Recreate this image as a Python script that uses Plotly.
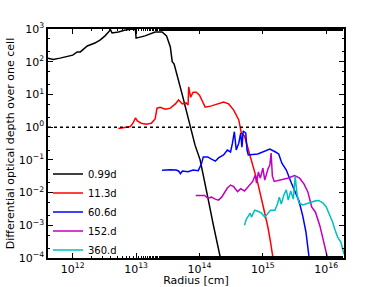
import numpy as np
import plotly.graph_objects as go

# log10(radius [cm]) and log10(differential optical depth)
labels = ["0.99d", "11.3d", "60.6d", "152.d", "360.d"]
colors = ["#000000", "#FF0000", "#0000FF", "#BF00BF", "#00BFBF"]

logr_099 = [11.61, 11.69, 11.80, 12.0, 12.07, 12.12, 12.23, 12.35, 12.43, 12.51, 12.58, 12.59,
            12.62, 12.72, 12.83, 12.95, 12.99, 13.0, 13.14, 13.30, 13.41, 13.48, 13.54, 13.56,
            13.57, 13.60, 13.65, 13.73, 13.79, 13.86, 13.93, 14.01, 14.08, 14.14, 14.22, 14.33]
logt_099 = [2.11, 2.07, 2.11, 2.2, 2.30, 2.30, 2.48, 2.57, 2.66, 2.79, 2.94, 3.0,
            2.88, 2.91, 2.97, 3.0, 2.98, 2.72, 2.79, 2.91, 2.91, 2.79, 2.45, 2.2,
            2.0, 1.93, 1.59, 0.98, 0.52, 0.0, -0.55, -1.0, -1.62, -2.23, -3.0, -4.0]

logr_113 = [12.72, 12.83, 12.91, 12.95, 12.99, 13.02, 13.08, 13.16, 13.24, 13.30, 13.33, 13.38,
            13.46, 13.54, 13.62, 13.67, 13.73, 13.79, 13.82, 13.83, 13.86, 13.90, 13.95, 14.00,
            14.06, 14.09, 14.19, 14.28, 14.38, 14.46, 14.54, 14.62, 14.65, 14.66, 14.71, 14.76,
            14.84, 14.92, 15.0, 15.08, 15.12, 15.16]
logt_113 = [-0.04, -0.01, 0.02, 0.12, 0.28, 0.19, 0.12, 0.09, 0.12, 0.25, 0.58, 0.61,
            0.55, 0.58, 0.71, 0.83, 0.71, 0.74, 0.68, 1.23, 0.92, 1.07, 1.07, 0.98,
            0.71, 0.61, 0.65, 0.71, 0.77, 0.71, 0.52, 0.22, -0.09, -0.18, -0.27, -0.61,
            -1.16, -1.71, -2.38, -3.06, -3.51, -4.0]

logr_606 = [13.41, 13.54, 13.63, 13.67, 13.70, 13.73, 13.82, 13.90, 13.98, 14.03, 14.06, 14.13,
            14.19, 14.25, 14.30, 14.38, 14.44, 14.49, 14.52, 14.55, 14.58, 14.62, 14.65, 14.67,
            14.69, 14.73, 14.75, 14.77, 14.92, 15.01, 15.11, 15.20, 15.25, 15.30, 15.37, 15.45,
            15.50, 15.57, 15.63, 15.68, 15.73]
logt_606 = [-1.32, -1.30, -1.31, -1.34, -1.42, -1.34, -1.36, -1.31, -1.33, -1.13, -0.91, -0.91,
            -0.98, -1.04, -0.94, -0.85, -0.70, -0.76, -0.49, -0.14, -0.70, -0.49, -0.18, -0.61,
            -0.12, -0.18, -0.70, -0.85, -0.82, -0.76, -0.67, -0.76, -0.82, -1.10, -1.31, -1.71,
            -1.92, -2.26, -2.72, -3.21, -4.0]

logr_152 = [13.94, 14.01, 14.08, 14.13, 14.19, 14.25, 14.30, 14.35, 14.39, 14.44, 14.49, 14.54,
            14.60, 14.65, 14.71, 14.77, 14.84, 14.88, 14.90, 14.93, 14.96, 15.00, 15.03, 15.08,
            15.11, 15.13, 15.15, 15.18, 15.28, 15.39, 15.50, 15.58, 15.65, 15.71, 15.77, 15.83,
            15.90, 15.96, 16.02]
logt_152 = [-2.09, -2.08, -2.09, -2.17, -2.14, -2.20, -2.23, -2.14, -2.02, -1.86, -1.77, -1.82,
            -1.97, -1.88, -1.95, -1.82, -1.66, -1.46, -1.71, -1.37, -1.56, -1.25, -1.62, -1.28,
            -1.16, -0.79, -1.50, -1.66, -1.62, -1.56, -1.48, -1.56, -1.74, -1.98, -2.44, -2.60,
            -3.02, -3.51, -4.0]

logr_360 = [14.71, 14.74, 14.77, 14.80, 14.82, 14.87, 14.93, 14.98, 15.03, 15.07, 15.12, 15.19,
            15.23, 15.26, 15.29, 15.33, 15.37, 15.40, 15.44, 15.48, 15.51, 15.54, 15.57, 15.63,
            15.72, 15.82, 15.88, 15.95, 16.00, 16.06, 16.10, 16.14, 16.18, 16.23, 16.28]
logt_360 = [-3.0, -2.81, -2.72, -2.63, -2.75, -2.54, -2.58, -2.63, -2.75, -2.66, -2.54, -2.54,
            -2.35, -2.14, -2.35, -2.08, -1.92, -2.23, -1.95, -2.20, -1.50, -2.08, -2.32, -2.38,
            -2.32, -2.26, -2.24, -2.32, -2.44, -2.69, -2.90, -3.15, -3.36, -3.51, -3.88]

x_tick_exp = [12, 13, 14, 15, 16]
y_tick_exp = [-4, -3, -2, -1, 0, 1, 2, 3]

series = [(logr_099, logt_099), (logr_113, logt_113), (logr_606, logt_606),
          (logr_152, logt_152), (logr_360, logt_360)]

x_range = [11.61, 16.28]
y_range = [-4, 3]

fig = go.Figure()
for (lr, lt), name, col in zip(series, labels, colors):
    fig.add_trace(go.Scatter(x=np.power(10.0, lr), y=np.power(10.0, lt), mode="lines",
                             name=name, line=dict(color=col, width=1.5)))

# tau = 1 reference line
fig.add_trace(go.Scatter(x=[10 ** x_range[0], 10 ** x_range[1]], y=[1, 1], mode="lines",
                         showlegend=False, line=dict(color="black", width=1.5, dash="dot")))


def tick_text(e):
    s = str(e).replace("-", "\u2212")
    return "10<sup>" + s + "</sup>"


font_ax = dict(family="DejaVu Sans", size=11, color="black")
axis_common = dict(type="log", showgrid=False, zeroline=False, showline=True,
                   linecolor="black", linewidth=1.5, mirror="allticks", ticks="inside",
                   ticklen=5, tickcolor="black", tickfont=font_ax, automargin=False,
                   minor=dict(ticks="inside", ticklen=2.5, tickcolor="black", showgrid=False))

fig.update_xaxes(range=x_range, tickmode="array",
                 tickvals=[10.0 ** e for e in x_tick_exp],
                 ticktext=[tick_text(e) for e in x_tick_exp],
                 title=dict(text="Radius [cm]", standoff=1, font=font_ax), **axis_common)
fig.update_yaxes(range=y_range, tickmode="array",
                 tickvals=[10.0 ** e for e in y_tick_exp],
                 ticktext=[tick_text(e) for e in y_tick_exp],
                 title=dict(text="Differential optical depth over one cell", standoff=2, font=font_ax),
                 **axis_common)

fig.update_layout(
    width=382, height=287,
    margin=dict(l=48, r=38, t=29, b=29),
    plot_bgcolor="white", paper_bgcolor="white",
    font=dict(family="DejaVu Sans", size=11, color="black"),
    legend=dict(x=0.0, y=0.43, xanchor="left", yanchor="top", bgcolor="rgba(0,0,0,0)",
                borderwidth=0, font=dict(size=10), tracegroupgap=0, itemwidth=30),
    showlegend=True,
)

fig.write_html("out.html", config={"displayModeBar": False},
               post_script="document.body.style.margin='0px';")
